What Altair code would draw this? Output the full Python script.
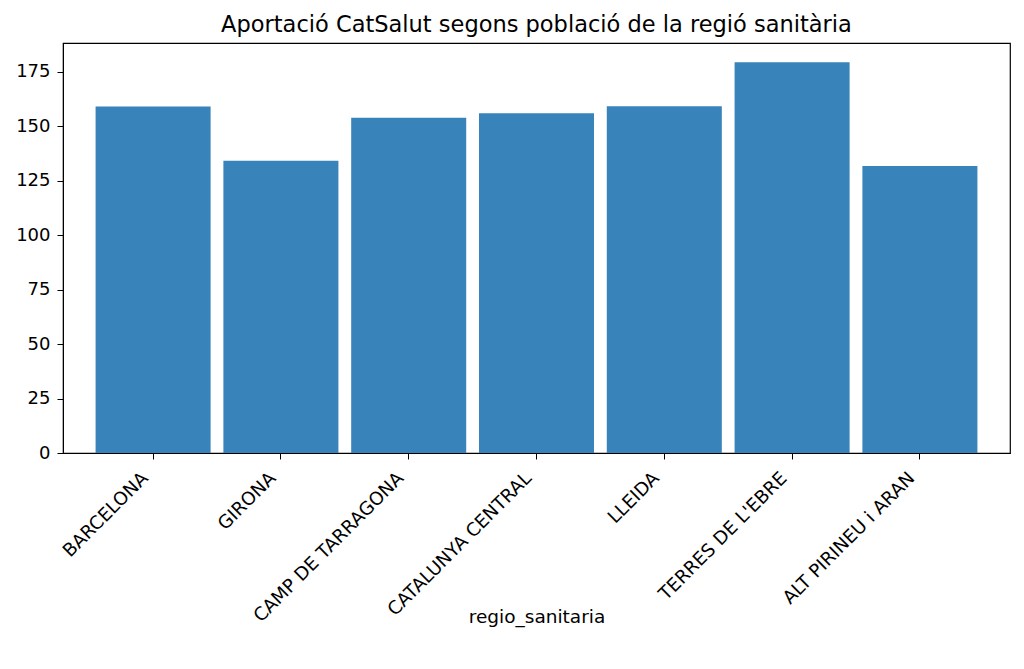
import altair as alt
import pandas as pd

regions = ["BARCELONA", "GIRONA", "CAMP DE TARRAGONA", "CATALUNYA CENTRAL",
           "LLEIDA", "TERRES DE L'EBRE", "ALT PIRINEU i ARAN"]
values = [159.1, 134.1, 153.9, 156.0, 159.2, 179.4, 131.7]

df = pd.DataFrame({"regio_sanitaria": regions, "valor": values})

FONT = "DejaVu Sans"

chart = alt.Chart(df).mark_bar(color="#3783ba").encode(
    x=alt.X("regio_sanitaria:N", sort=regions,
            scale=alt.Scale(paddingInner=0.1, paddingOuter=0.255),
            axis=alt.Axis(title="regio_sanitaria", labelAngle=-45, labelAlign="right",
                          labelBaseline="top", labelFontSize=18.3, titleFontSize=18.5,
                          titleFontWeight="normal", labelColor="black", titleColor="black",
                          domainColor="black", tickColor="black", tickSize=6,
                          labelPadding=10, labelOffset=-14, labelLimit=0,
                          titleY=154, titleBaseline="top",
                          labelFont=FONT, titleFont=FONT)),
    y=alt.Y("valor:Q", scale=alt.Scale(domain=[0, 188.2], nice=False),
            axis=alt.Axis(title=None, values=[0, 25, 50, 75, 100, 125, 150, 175],
                          labelFontSize=18, labelColor="black", domainColor="black",
                          tickColor="black", tickSize=6, labelPadding=7, grid=False,
                          labelFont=FONT)),
).properties(
    width=947, height=410,
    title=alt.TitleParams("Aportació CatSalut segons població de la regió sanitària",
                          fontSize=22.5, font=FONT, fontWeight="normal", color="black",
                          anchor="middle", offset=7),
    padding={"left": 7, "top": 5, "right": 5, "bottom": 5},
).configure_view(stroke="black", strokeWidth=1.2)

chart.save("out.html", embed_options={"renderer": "svg", "actions": False})
